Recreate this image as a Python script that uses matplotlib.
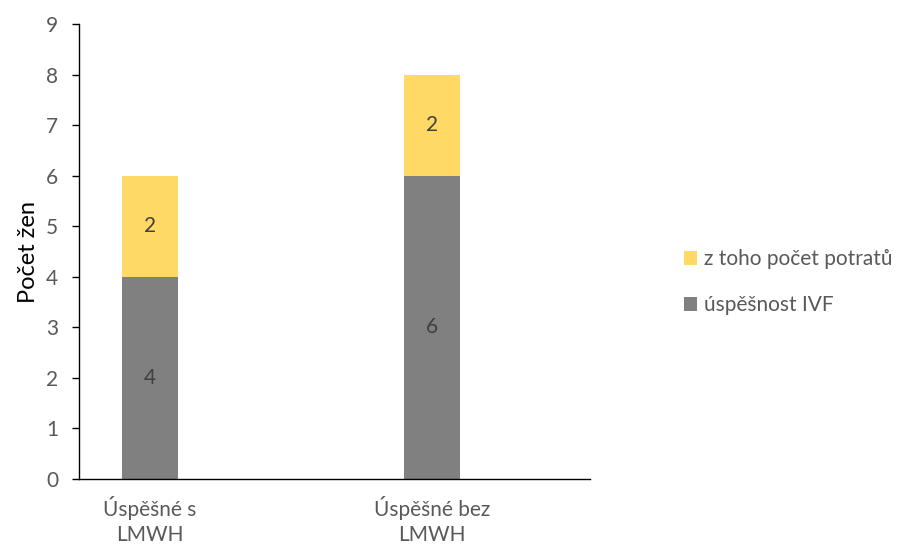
import matplotlib
matplotlib.use("Agg")
import matplotlib.pyplot as plt
import numpy as np

categories = ["Úspěšné s\nLMWH", "Úspěšné bez\nLMWH"]
ivf_success = [4, 6]
miscarriages = [2, 2]
series_labels = ["úspěšnost IVF", "z toho počet potratů"]

GRAY = "#808080"
YELLOW = "#FFD966"
TEXT = "#595959"

plt.rcParams["font.family"] = ["Lato", "DejaVu Sans"]

fig = plt.figure(figsize=(9.06, 5.47), dpi=100)
ax = fig.add_axes([0.0872, 0.1243, 0.5638, 0.8317])

x = np.arange(len(categories))
width = 0.2
b1 = ax.bar(x, ivf_success, width, color=GRAY, label=series_labels[0])
b2 = ax.bar(x, miscarriages, width, bottom=ivf_success, color=YELLOW, label=series_labels[1])

for bars, values, bottoms in [(b1, ivf_success, [0, 0]), (b2, miscarriages, ivf_success)]:
    for rect, v, b in zip(bars, values, bottoms):
        ax.text(rect.get_x() + rect.get_width() / 2, b + v / 2, f"{v}",
                ha="center", va="center", fontsize=15, color="#404040")

ax.set_xlim(-0.252, 1.56)
ax.set_ylim(0, 9)
ax.set_yticks(range(0, 10))
ax.set_xticks(x)
ax.set_xticklabels(categories, fontsize=15, color=TEXT, linespacing=1.35)
ax.tick_params(axis="x", length=0, pad=12)
ax.tick_params(axis="y", length=5, width=1, colors="black", labelcolor=TEXT,
               labelsize=15, pad=10)
ax.set_ylabel("Počet žen", fontsize=17, color="black", labelpad=5)

for side in ["top", "right"]:
    ax.spines[side].set_visible(False)
for side in ["left", "bottom"]:
    ax.spines[side].set_linewidth(1.0)

handles = [b2, b1]
fig.legend(handles, [series_labels[1], series_labels[0]], loc="center left",
           bbox_to_anchor=(0.755, 0.484), frameon=False, fontsize=15,
           borderpad=0, borderaxespad=0,
           handlelength=0.6, handleheight=0.6, handletextpad=0.35,
           labelspacing=1.25, labelcolor=TEXT)

fig.savefig("out.png", dpi=100)
